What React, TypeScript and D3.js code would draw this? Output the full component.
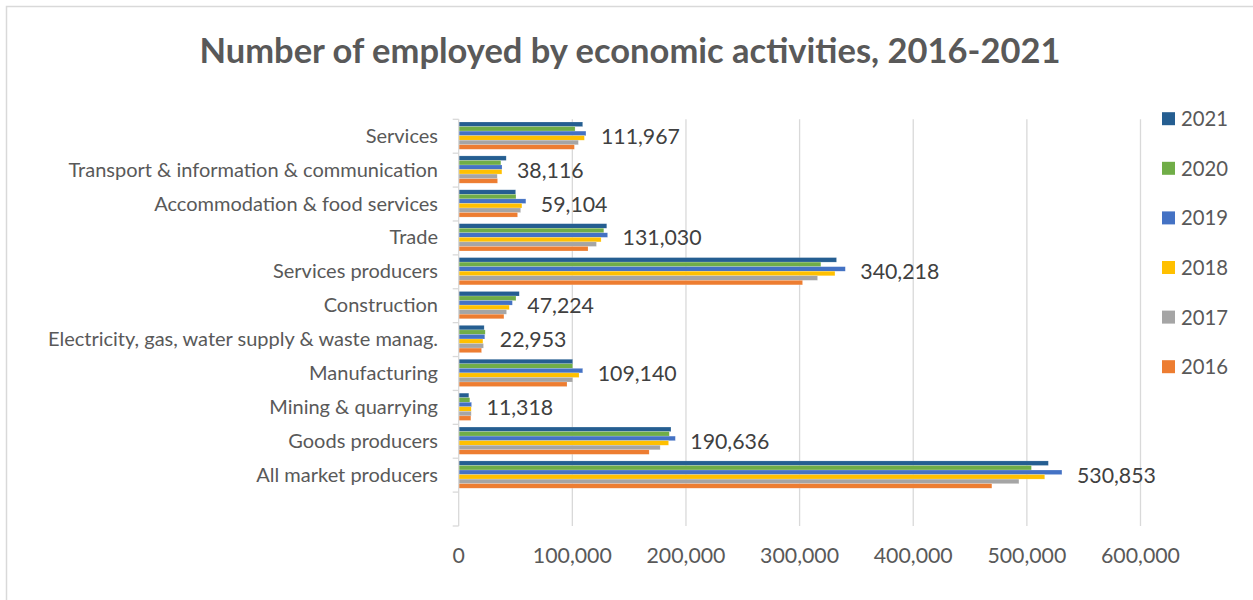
import React from "react";
import * as d3 from "d3";

const categories = [
  "Services",
  "Transport & information & communication",
  "Accommodation & food services",
  "Trade",
  "Services producers",
  "Construction",
  "Electricity, gas, water supply & waste manag.",
  "Manufacturing",
  "Mining & quarrying",
  "Goods producers",
  "All market producers",
  "",
];

const years = ["2021", "2020", "2019", "2018", "2017", "2016"];

const v2021 = [109100, 41800, 50100, 130300, 332500, 53300, 22400, 100300, 8900, 186800, 518900];
const v2020 = [102400, 37100, 50400, 127700, 318700, 50400, 23300, 100300, 9800, 185300, 504000];
const v2019 = [111967, 38116, 59104, 131030, 340218, 47224, 22953, 109140, 11318, 190636, 530853];
const v2018 = [110600, 38000, 55600, 125300, 331100, 44500, 21300, 105900, 11000, 184700, 515700];
const v2017 = [105300, 33900, 54500, 121200, 315800, 42100, 21800, 100300, 11000, 177300, 493000];
const v2016 = [101800, 34200, 51800, 113800, 302600, 39800, 20100, 95300, 10700, 167600, 469200];

const xTicks = [0, 100000, 200000, 300000, 400000, 500000, 600000];

const seriesValues: Record<string, number[]> = {
  "2021": v2021,
  "2020": v2020,
  "2019": v2019,
  "2018": v2018,
  "2017": v2017,
  "2016": v2016,
};

const colors: Record<string, string> = {
  "2021": "#255E91",
  "2020": "#70AD47",
  "2019": "#4472C4",
  "2018": "#FFC000",
  "2017": "#A5A5A5",
  "2016": "#ED7D31",
};

const FONT = "Lato, 'Open Sans', sans-serif";

export default function App() {
  const W = 1253;
  const H = 600;
  const x0 = 458.7;
  const x1 = 1140.5;
  const yTop = 119.3;
  const yBot = 526;

  const x = d3.scaleLinear().domain([0, 600000]).range([x0, x1]);
  const y = d3.scaleBand<string>().domain(categories).range([yTop, yBot]).padding(0);
  const bw = y.bandwidth();
  const inner = d3
    .scaleBand<string>()
    .domain(years)
    .range([0, bw * 0.805])
    .padding(0);
  const innerOffset = bw * 0.08;
  const fmt = d3.format(",");

  const realCats = categories.filter((c) => c !== "");
  const boundaries = d3.range(categories.length + 1).map((i) => yTop + i * bw);

  return (
    <svg
      width={W}
      height={H}
      style={{ position: "absolute", left: 0, top: 0, background: "#fff" }}
      fontFamily={FONT}
    >
      <rect x={0} y={0} width={W} height={H} fill="#fff" />
      <rect x={6.5} y={6.5} width={W + 20} height={H + 20} fill="none" stroke="#d9d9d9" strokeWidth={1.5} />

      <text
        x={630}
        y={63}
        textAnchor="middle"
        fontSize={35}
        fontWeight={700}
        fill="#595959"
        textLength={861}
        lengthAdjust="spacingAndGlyphs"
      >
        Number of employed by economic activities, 2016-2021
      </text>

      {/* gridlines */}
      {xTicks.slice(1).map((t) => (
        <line key={t} x1={x(t)} x2={x(t)} y1={yTop} y2={yBot} stroke="#d9d9d9" strokeWidth={1.3} />
      ))}

      {/* bars */}
      {realCats.map((c, i) => (
        <g key={c}>
          {years.map((yr) => {
            const v = seriesValues[yr][i];
            const by = (y(c) as number) + innerOffset + (inner(yr) as number);
            return (
              <rect
                key={yr}
                x={x0}
                y={by}
                width={x(v) - x0}
                height={inner.bandwidth()}
                fill={colors[yr]}
                stroke="#ffffff"
                strokeOpacity={0.35}
                strokeWidth={0.5}
              />
            );
          })}
        </g>
      ))}

      {/* axis line and ticks */}
      <line x1={x0} x2={x0} y1={yTop} y2={yBot} stroke="#d9d9d9" strokeWidth={1.3} />
      {boundaries.map((b, i) => (
        <line key={i} x1={x0 - 6} x2={x0} y1={b} y2={b} stroke="#d9d9d9" strokeWidth={1.3} />
      ))}

      {/* category labels */}
      {realCats.map((c) => (
        <text
          key={c}
          x={438}
          y={(y(c) as number) + bw / 2 + 6.5}
          textAnchor="end"
          fontSize={20}
          fill="#595959"
        >
          {c}
        </text>
      ))}

      {/* data labels for 2019 */}
      {realCats.map((c, i) => {
        const v = v2019[i];
        return (
          <text
            key={c}
            x={x(v) + 15}
            y={(y(c) as number) + bw / 2 + 7.5}
            fontSize={21.3}
            fill="#404040"
          >
            {fmt(v)}
          </text>
        );
      })}

      {/* x tick labels */}
      {xTicks.map((t) => (
        <text key={t} x={x(t)} y={563} textAnchor="middle" fontSize={21.3} fill="#595959">
          {fmt(t)}
        </text>
      ))}

      {/* legend */}
      {years.map((yr, i) => {
        const cy = 118.7 + i * 49.6;
        return (
          <g key={yr}>
            <rect x={1162} y={cy - 6.5} width={13} height={13} fill={colors[yr]} />
            <text x={1181} y={cy + 7.5} fontSize={20.3} fill="#595959">
              {yr}
            </text>
          </g>
        );
      })}
    </svg>
  );
}
